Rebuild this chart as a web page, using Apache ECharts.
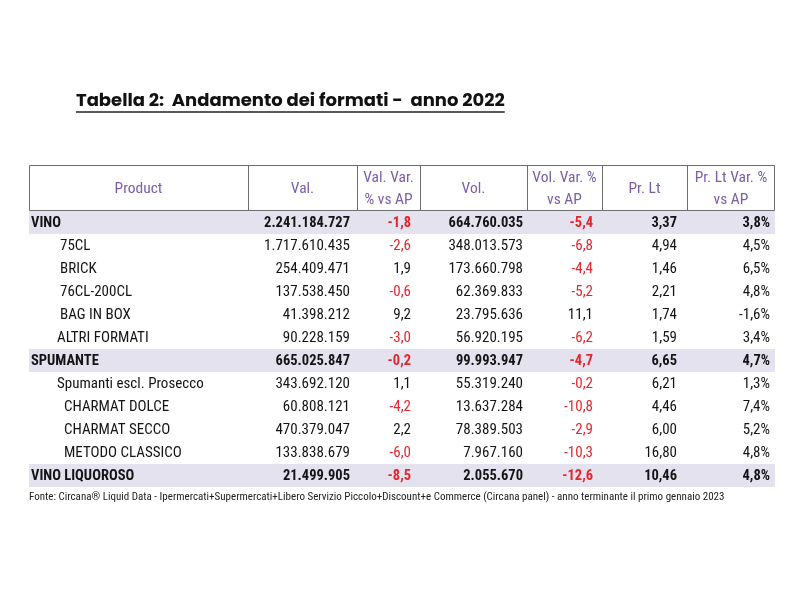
<!DOCTYPE html>
<html><head><meta charset="utf-8">
<script src="https://cdn.jsdelivr.net/npm/echarts@6/dist/echarts.min.js"></script>
<style>html,body{margin:0;padding:0;background:#fff}#c{width:800px;height:600px}</style>
</head><body><div id="c"></div>
<script>
// ---- data ----
const products = ['VINO','75CL','BRICK','76CL-200CL','BAG IN BOX','ALTRI FORMATI','SPUMANTE','Spumanti escl. Prosecco','CHARMAT DOLCE','CHARMAT SECCO','METODO CLASSICO','VINO LIQUOROSO'];
const levels   = [0,2,2,2,2,1,0,1,3,3,3,0];
const totals   = [true,false,false,false,false,false,true,false,false,false,false,true];
const val      = [2241184727,1717610435,254409471,137538450,41398212,90228159,665025847,343692120,60808121,470379047,133838679,21499905];
const valVar   = [-1.8,-2.6,1.9,-0.6,9.2,-3.0,-0.2,1.1,-4.2,2.2,-6.0,-8.5];
const vol      = [664760035,348013573,173660798,62369833,23795636,56920195,99993947,55319240,13637284,78389503,7967160,2055670];
const volVar   = [-5.4,-6.8,-4.4,-5.2,11.1,-6.2,-4.7,-0.2,-10.8,-2.9,-10.3,-12.6];
const prLt     = [3.37,4.94,1.46,2.21,1.74,1.59,6.65,6.21,4.46,6.00,16.80,10.46];
const prLtVar  = [3.8,4.5,6.5,4.8,-1.6,3.4,4.7,1.3,7.4,5.2,4.8,4.8];
const headers  = ['Product','Val.','Val. Var.\n% vs AP','Vol.','Vol. Var. %\nvs AP','Pr. Lt','Pr. Lt Var. %\nvs AP'];
const title    = 'Tabella 2:  Andamento dei formati -  anno 2022';
const source   = 'Fonte: Circana® Liquid Data - Ipermercati+Supermercati+Libero Servizio Piccolo+Discount+e Commerce (Circana panel) - anno terminante il primo gennaio 2023';

// ---- layout ----
const L = 29, R = 775, HT = 165, HB = 211, ROWH = 23;
const colEdges = [0, 219, 328, 391, 498, 573, 658, 746];
const rightPad = [0, 7, 9, 4, 9, 10, 5];
const indent = {0:2, 1:28, 2:31, 3:35};
const FONT = '"Liberation Sans Narrow","Roboto Condensed","DejaVu Sans Condensed","Arial Narrow",Roboto,sans-serif';
const PURPLE = '#7a5ea6', RED = '#e3262b', INK = '#141414', BAND = '#e5e2f0';

function thousands(n){ return String(Math.round(n)).replace(/\B(?=(\d{3})+(?!\d))/g,'.'); }
function dec(n,d){ return n.toFixed(d).replace('.',','); }

const chart = echarts.init(document.getElementById('c'), null, {renderer:'canvas'});

const headerEls = [];
headerEls.push({type:'rect', shape:{x:L+0.5,y:HT+0.5,width:R-L-1,height:HB-HT-1}, style:{fill:'#fff',stroke:'#6e6e6e',lineWidth:1}});
for (let i=1;i<colEdges.length-1;i++){
  const x = Math.round(L+colEdges[i])+0.5;
  headerEls.push({type:'line', shape:{x1:x,y1:HT,x2:x,y2:HB}, style:{stroke:'#6e6e6e',lineWidth:1}});
}
headers.forEach((h,i)=>{
  headerEls.push({type:'text', style:{text:h, x:L+(colEdges[i]+colEdges[i+1])/2, y:(HT+HB)/2+1, align:'center', verticalAlign:'middle',
    fontFamily:FONT, fontSize:15.5, lineHeight:22, fill:PURPLE}});
});

// title with underline
const mc = document.createElement('canvas').getContext('2d');
const TFONT = '"Poppins","Noto Sans","Open Sans",sans-serif';
mc.font = 'bold 18px ' + TFONT.replace(/"/g,"'");
const tw = mc.measureText(title).width;

chart.setOption({
  animation:false,
  grid:{left:L, top:HB, width:R-L, height:ROWH*products.length},
  xAxis:{type:'value', min:0, max:colEdges[colEdges.length-1], show:false},
  yAxis:{type:'category', data:products, inverse:true, show:false},
  graphic:[
    {type:'text', style:{text:title, x:76, y:101, verticalAlign:'middle', fontFamily:TFONT, fontWeight:'bold', fontSize:18, fill:'#111'}},
    {type:'line', shape:{x1:76,y1:112,x2:76+tw,y2:112}, style:{stroke:'#222',lineWidth:1.5}},
    {type:'group', children:headerEls},
    {type:'text', style:{text:source, x:L, y:497, verticalAlign:'middle', fontFamily:FONT, fontSize:11, fill:'#222'}}
  ],
  series:[{
    type:'custom', clip:false,
    data: products.map((p,i)=>[i]),
    renderItem:function(params, api){
      const i = api.value(0);
      const c = api.coord([0,i]);
      const h = api.size([0,1])[1];
      const y = c[1];
      const bold = totals[i];
      const cells = [products[i], thousands(val[i]), dec(valVar[i],1), thousands(vol[i]), dec(volVar[i],1), dec(prLt[i],2), dec(prLtVar[i],1)+'%'];
      const reds = [false,false,valVar[i]<0,false,volVar[i]<0,false,false];
      const ch = [];
      if (bold) ch.push({type:'rect', shape:{x:c[0], y:y-h/2, width:api.size([colEdges[7],0])[0], height:h}, style:{fill:BAND}});
      cells.forEach((t,k)=>{
        let x, align;
        if (k===0){ x = api.coord([colEdges[0],i])[0] + indent[levels[i]]; align='left'; }
        else { x = api.coord([colEdges[k+1],i])[0] - rightPad[k]; align='right'; }
        ch.push({type:'text', style:{text:t, x:x, y:y+1, align:align, verticalAlign:'middle', fontFamily:FONT,
          fontSize: bold?14.5:15, fontWeight: bold?'bold':'normal', fill: reds[k]?RED:INK}});
      });
      return {type:'group', children:ch};
    }
  }]
});
</script></body></html>
